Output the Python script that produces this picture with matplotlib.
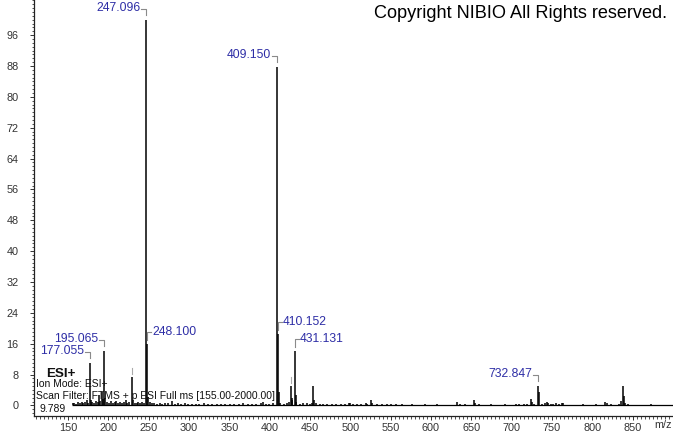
import matplotlib
matplotlib.use("Agg")
import matplotlib.pyplot as plt
from matplotlib.ticker import MultipleLocator, FixedLocator
import numpy as np

# ---------------- data ----------------
mz = [156.0, 158.1, 160.3, 162.1, 164.9, 167.2, 169.0, 171.1, 173.5, 174.9, 177.055, 178.1, 180.2, 182.8,
      184.6, 186.9, 188.6, 190.2, 191.6, 193.1, 195.065, 196.1, 198.3, 200.8, 203.1, 205.4, 207.9, 210.0,
      212.3, 214.7, 217.2, 219.5, 221.9, 223.4, 226.0, 229.1, 230.1, 232.6, 235.0, 237.3, 239.8, 242.1,
      244.6, 247.096, 248.100, 249.1, 251.2, 253.9, 257.0, 260.4, 263.8, 267.2, 270.9, 274.5, 278.6, 282.1,
      286.3, 290.7, 295.0, 299.2, 303.8, 308.5, 313.0, 318.4, 323.1, 328.6, 334.2, 339.5, 345.0, 350.3,
      356.1, 361.8, 367.3, 372.9, 378.2, 383.6, 388.9, 391.2, 395.0, 399.8, 404.2, 409.150, 410.152, 411.2,
      413.1, 417.9, 421.3, 423.6, 426.1, 427.2, 428.3, 431.131, 432.1, 433.2, 437.4, 441.8, 446.5, 450.2,
      453.1, 454.1, 455.1, 457.3, 461.9, 466.5, 471.2, 477.0, 482.6, 488.3, 493.5, 497.9, 499.2, 503.4,
      508.6, 513.8, 518.9, 520.6, 525.8, 527.3, 533.1, 539.4, 545.2, 551.0, 557.3, 563.8, 570.2, 577.0,
      584.5, 592.1, 600.3, 608.0, 616.2, 624.9, 632.2, 636.4, 641.8, 648.0, 653.7, 655.1, 659.0, 666.3,
      674.8, 683.2, 692.0, 699.5, 705.8, 709.4, 714.9, 719.6, 723.5, 725.0, 728.3, 732.847, 733.9, 738.2,
      741.3, 743.6, 745.2, 748.6, 751.9, 755.3, 758.7, 761.9, 764.2, 771.0, 779.4, 788.1, 796.8, 804.5,
      811.2, 816.4, 818.2, 822.7, 829.0, 833.4, 836.1, 838.3, 839.6, 841.0, 844.2, 850.1, 857.6, 865.3,
      872.8, 880.4, 888.9, 895.2]
intensity = [0.5, 0.7, 0.4, 0.9, 0.6, 1.0, 0.5, 0.8, 1.3, 0.7, 10.9, 1.4, 0.8, 0.6,
             1.2, 0.9, 2.6, 1.1, 3.6, 1.6, 14.0, 2.0, 0.9, 0.6, 1.1, 0.5, 0.9, 1.2,
             0.6, 1.0, 0.5, 0.8, 1.3, 0.6, 0.9, 7.4, 1.3, 0.7, 0.5, 0.9, 0.6, 1.0,
             0.7, 100.0, 15.8, 2.2, 0.8, 0.5, 0.7, 0.4, 0.6, 0.4, 0.5, 0.6, 1.1, 0.4,
             0.5, 0.3, 0.5, 0.3, 0.4, 0.3, 0.4, 0.5, 0.3, 0.4, 0.3, 0.4, 0.3, 0.4,
             0.3, 0.4, 0.5, 0.3, 0.4, 0.3, 0.5, 0.8, 0.4, 0.3, 0.5, 87.8, 18.6, 3.4,
             0.7, 0.4, 0.6, 0.9, 5.1, 1.5, 2.0, 14.2, 2.8, 0.9, 0.4, 0.5, 0.6, 0.4,
             0.7, 4.9, 1.4, 0.5, 0.3, 0.4, 0.3, 0.4, 0.3, 0.3, 0.4, 0.6, 0.5, 0.3,
             0.3, 0.3, 0.7, 0.4, 1.4, 0.5, 0.3, 0.3, 0.4, 0.3, 0.3, 0.3, 0.2, 0.3,
             0.2, 0.3, 0.2, 0.3, 0.2, 0.2, 1.0, 0.3, 0.4, 0.2, 1.4, 0.7, 0.3, 0.2,
             0.3, 0.2, 0.3, 0.2, 0.4, 0.3, 0.4, 0.3, 1.7, 0.8, 0.3, 4.9, 3.6, 0.4,
             0.6, 0.8, 0.5, 0.3, 0.4, 0.5, 0.4, 0.6, 0.5, 0.2, 0.2, 0.3, 0.2, 0.3,
             0.2, 1.0, 0.6, 0.3, 0.2, 0.3, 1.2, 4.9, 2.4, 0.6, 0.3, 0.2, 0.2, 0.2,
             0.3, 0.2, 0.2, 0.2]

label_mz = [177.055, 195.065, 247.096, 248.100, 409.150, 410.152, 431.131, 732.847]
label_text = ["177.055", "195.065", "247.096", "248.100", "409.150", "410.152", "431.131", "732.847"]
right_side = ["248.100", "410.152", "431.131"]
marked_mz = [229.1, 426.1]

x_ticks = list(range(150, 851, 50))
y_ticks = list(range(0, 97, 8))

scan_range = (155.0, 900.0)
info_lines = ["Ion Mode: ESI+", "Scan Filter: FTMS + p ESI Full ms [155.00-2000.00]", "9.789"]

# ---------------- figure ----------------
W, H = 673, 433
fig = plt.figure(figsize=(W / 100, H / 100), dpi=100)
ax = fig.add_axes([34 / W, 17 / H, (W - 34) / W, 416 / H])
ax.set_xlim(107.9, 900.1)
ax.set_ylim(-2.75, 105.1)

FONT = "Liberation Sans"
LBL = "#2e2ea6"
BRK = "#8a8a8a"

for s in ["top", "right"]:
    ax.spines[s].set_visible(False)
ax.spines["left"].set_color("#222222")
ax.spines["bottom"].set_color("#222222")
ax.spines["left"].set_linewidth(0.9)
ax.spines["bottom"].set_linewidth(0.9)

ax.xaxis.set_major_locator(FixedLocator(x_ticks))
ax.xaxis.set_minor_locator(MultipleLocator(5))
ax.yaxis.set_major_locator(FixedLocator(y_ticks))
ax.yaxis.set_minor_locator(MultipleLocator(1))
ax.set_xticklabels([str(t) for t in x_ticks])
ax.set_yticklabels([str(t) for t in y_ticks])
ax.tick_params(axis="both", which="major", length=3.2, width=0.7, color="#333333",
               labelsize=7.8, labelcolor="#333333")
ax.tick_params(axis="both", which="minor", length=1.8, width=0.6, color="#333333")
ax.tick_params(axis="y", which="major", pad=8)
ax.tick_params(axis="x", which="major", pad=2)
for lab in ax.get_xticklabels() + ax.get_yticklabels():
    lab.set_fontfamily(FONT)

# spectrum
ax.hlines(0, scan_range[0], scan_range[1], color="black", lw=0.9, zorder=3)
ax.vlines(mz, 0, intensity, color="black", lw=1.1, zorder=3)

fig.canvas.draw()
tr = ax.transData
inv = tr.inverted()


def px2data(px, py):
    return inv.transform((px, py))


heights = dict(zip(mz, intensity))
for m, t in zip(label_mz, label_text):
    px, py = tr.transform((m, heights[m]))
    if t in right_side:
        pts = [(px, py + 4), (px, py + 12), (px + 4, py + 12)]
        tx, ha = px + 5, "left"
    else:
        pts = [(px - 5, py + 11), (px, py + 11), (px, py + 5)]
        tx, ha = px - 6, "right"
    d = np.array([px2data(a, b) for a, b in pts])
    ax.plot(d[:, 0], d[:, 1], color=BRK, lw=0.8, clip_on=False, zorder=4)
    tdx, tdy = px2data(tx, py + 12)
    ax.text(tdx, tdy, t, ha=ha, va="center", color=LBL, fontsize=8.7, fontfamily=FONT, zorder=5)

for m in marked_mz:
    px, py = tr.transform((m, heights[m]))
    d = np.array([px2data(px, py + 3), px2data(px, py + 9)])
    ax.plot(d[:, 0], d[:, 1], color="#aaaaaa", lw=0.8, zorder=4)

# texts
fig.text(663 / W, 1 - 425 / H, "m/z", ha="center", va="center", fontsize=7.8,
         fontfamily=FONT, color="#333333")
fig.text(667 / W, 1 - 14 / H, "Copyright NIBIO All Rights reserved.", ha="right", va="center",
         fontsize=13.1, fontfamily=FONT, color="black")
fig.text(46.5 / W, 1 - 374 / H, "ESI+", ha="left", va="center", fontsize=9.6,
         fontweight="bold", fontfamily=FONT, color="#111111")
fig.text(36 / W, 1 - 384 / H, info_lines[0], ha="left", va="center", fontsize=7.5,
         fontfamily=FONT, color="#111111")
fig.text(36 / W, 1 - 396 / H, info_lines[1], ha="left", va="center", fontsize=7.5,
         fontfamily=FONT, color="#111111")
fig.text(39 / W, 1 - 408.5 / H, info_lines[2], ha="left", va="center", fontsize=7.5,
         fontfamily=FONT, color="#111111")

fig.savefig("out.png", dpi=100)
